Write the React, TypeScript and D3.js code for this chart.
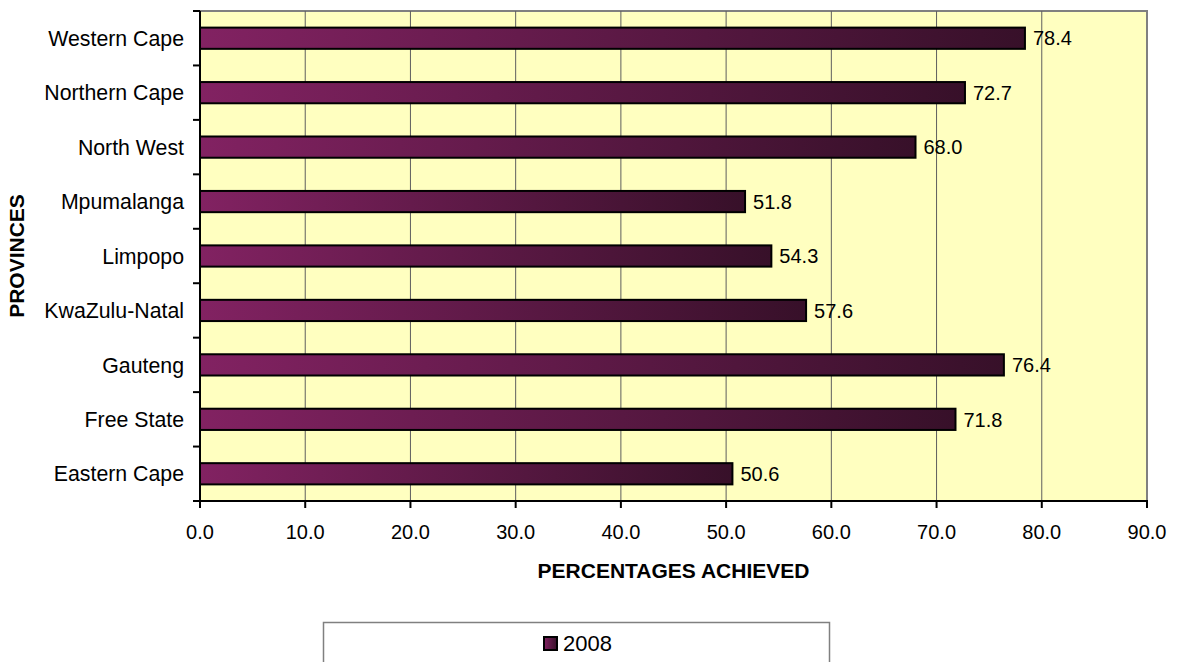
import React from "react";
import * as d3 from "d3";

// Provinces (top to bottom) and percentages achieved in 2008
const provinces = [
  "Western Cape",
  "Northern Cape",
  "North West",
  "Mpumalanga",
  "Limpopo",
  "KwaZulu-Natal",
  "Gauteng",
  "Free State",
  "Eastern Cape",
];
const values2008 = [78.4, 72.7, 68.0, 51.8, 54.3, 57.6, 76.4, 71.8, 50.6];
const xTicks = [0, 10, 20, 30, 40, 50, 60, 70, 80, 90];
const seriesName = "2008";

const W = 1179;
const H = 662;
const plot = { left: 200, right: 1147, top: 11, bottom: 501 };
const FONT = "Arial, 'Liberation Sans', Helvetica, sans-serif";

export default function App() {
  const x = d3.scaleLinear().domain([0, 90]).range([plot.left, plot.right]);
  const pad = 0.61;
  const y = d3
    .scaleBand<string>()
    .domain(provinces)
    .range([plot.top, plot.bottom])
    .paddingInner(pad)
    .paddingOuter(pad / 2);
  const step = y.step();
  const boundaries = d3.range(provinces.length + 1).map((i) => plot.top + i * step);

  return (
    <svg
      width={W}
      height={H}
      style={{ position: "absolute", left: 0, top: 0, background: "#fff" }}
      fontFamily={FONT}
    >
      <defs>
        <linearGradient id="barGrad" x1="0" y1="0" x2="1" y2="0">
          <stop offset="0%" stopColor="#822262" />
          <stop offset="100%" stopColor="#371029" />
        </linearGradient>
      </defs>

      {/* plot area */}
      <rect
        x={plot.left}
        y={plot.top}
        width={plot.right - plot.left}
        height={plot.bottom - plot.top}
        fill="#ffffc0"
        stroke="#808080"
        strokeWidth={2}
      />

      {/* vertical gridlines */}
      {xTicks.slice(1, -1).map((t) => (
        <line
          key={`g${t}`}
          x1={x(t)}
          x2={x(t)}
          y1={plot.top}
          y2={plot.bottom}
          stroke="#5e5e5e"
          strokeWidth={1}
        />
      ))}

      {/* bars */}
      {provinces.map((p, i) => (
        <rect
          key={p}
          x={x(0)}
          y={y(p)!}
          width={x(values2008[i]) - x(0)}
          height={y.bandwidth()}
          fill="url(#barGrad)"
          stroke="#000"
          strokeWidth={2}
        />
      ))}

      {/* value labels */}
      {provinces.map((p, i) => (
        <text
          key={`v${p}`}
          x={x(values2008[i]) + 8}
          y={y(p)! + y.bandwidth() / 2}
          dy="0.36em"
          fontSize={20}
          fill="#000"
        >
          {values2008[i].toFixed(1)}
        </text>
      ))}

      {/* left axis */}
      <line x1={plot.left} x2={plot.left} y1={plot.top} y2={plot.bottom} stroke="#000" strokeWidth={2} />
      {boundaries.map((b, i) => (
        <line key={`yt${i}`} x1={plot.left - 7} x2={plot.left} y1={b} y2={b} stroke="#000" strokeWidth={2} />
      ))}
      {provinces.map((p) => (
        <text
          key={`yl${p}`}
          x={plot.left - 16}
          y={y(p)! + y.bandwidth() / 2}
          dy="0.36em"
          textAnchor="end"
          fontSize={21.3}
          fill="#000"
        >
          {p}
        </text>
      ))}

      {/* bottom axis */}
      <line x1={plot.left - 1} x2={plot.right + 1} y1={plot.bottom} y2={plot.bottom} stroke="#000" strokeWidth={2} />
      {xTicks.map((t) => (
        <g key={`xt${t}`}>
          <line x1={x(t)} x2={x(t)} y1={plot.bottom} y2={plot.bottom + 7} stroke="#000" strokeWidth={2} />
          <text x={x(t)} y={plot.bottom + 38} textAnchor="middle" fontSize={20} fill="#000">
            {t.toFixed(1)}
          </text>
        </g>
      ))}

      {/* axis titles */}
      <text
        x={(plot.left + plot.right) / 2}
        y={578}
        textAnchor="middle"
        fontSize={21}
        fontWeight="bold"
        fill="#000"
      >
        PERCENTAGES ACHIEVED
      </text>
      <text
        transform={`translate(24, ${(plot.top + plot.bottom) / 2}) rotate(-90)`}
        textAnchor="middle"
        fontSize={21}
        fontWeight="bold"
        fill="#000"
      >
        PROVINCES
      </text>

      {/* legend */}
      <rect x={323.5} y={622.5} width={506} height={60} fill="#fff" stroke="#808080" strokeWidth={1.5} />
      <rect x={544} y={637} width={13} height={13} fill="url(#barGrad)" stroke="#000" strokeWidth={2} />
      <text x={563} y={651} fontSize={22} fill="#000">
        {seriesName}
      </text>
    </svg>
  );
}
